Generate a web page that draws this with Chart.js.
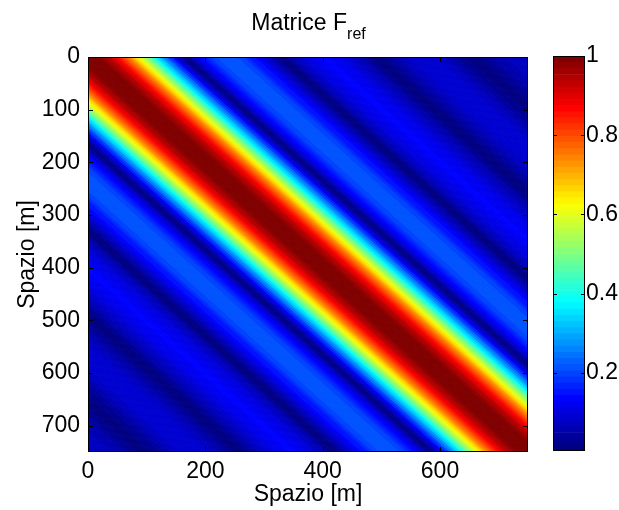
<!DOCTYPE html>
<html><head><meta charset="utf-8">
<script src="https://cdn.jsdelivr.net/npm/chart.js@4.4.0/dist/chart.umd.min.js"></script>
<style>
html,body{margin:0;padding:0;background:#fff;}
#wrap{position:relative;width:619px;height:510px;overflow:hidden;font-family:"Liberation Sans",Arial,sans-serif;}
#main{position:absolute;left:0;top:0;}
#cbar{position:absolute;left:540px;top:0;}
#title{position:absolute;left:0;top:9px;width:617px;text-align:center;font-size:23px;color:#000;white-space:nowrap;}
#title .sub{font-size:16px;position:relative;top:9px;}
</style></head>
<body>
<div id="wrap">
  <canvas id="main" width="619" height="510"></canvas>
  <canvas id="cbar" width="79" height="510"></canvas>
  <div id="title">Matrice F<span class="sub">ref</span></div>
</div>
<script>
// ---- data ----
const X_TICKS = [0, 200, 400, 600];
const Y_TICKS = [0, 100, 200, 300, 400, 500, 600, 700];
const CBAR_TICKS = [0.2, 0.4, 0.6, 0.8, 1];
const SPACE_MAX = 750;            // metres on both axes
const LAG_STEP = 5;               // metres between profile samples
// value of F(i,j) as a function of the distance |i-j| in metres (0, 5, 10, ... 750)
const LAG_PROFILE = [
  1.000, 0.998, 0.994, 0.986, 0.975, 0.962, 0.945, 0.926, 0.904, 0.879,
  0.852, 0.823, 0.792, 0.758, 0.723, 0.686, 0.648, 0.609, 0.569, 0.528,
  0.486, 0.444, 0.402, 0.361, 0.319, 0.278, 0.238, 0.198, 0.160, 0.123,
  0.087, 0.051, 0.019, 0.012, 0.041, 0.068, 0.093, 0.115, 0.136, 0.154,
  0.170, 0.183, 0.195, 0.203, 0.210, 0.215, 0.217, 0.217, 0.215, 0.212,
  0.206, 0.199, 0.191, 0.181, 0.169, 0.157, 0.144, 0.129, 0.114, 0.099,
  0.083, 0.067, 0.051, 0.035, 0.019, 0.003, 0.012, 0.027, 0.041, 0.054,
  0.066, 0.078, 0.088, 0.097, 0.105, 0.112, 0.118, 0.122, 0.126, 0.128,
  0.128, 0.128, 0.126, 0.124, 0.120, 0.115, 0.110, 0.103, 0.096, 0.088,
  0.079, 0.069, 0.060, 0.050, 0.040, 0.029, 0.019, 0.008, 0.003, 0.012,
  0.022, 0.031, 0.040, 0.048, 0.056, 0.063, 0.070, 0.075, 0.080, 0.084,
  0.087, 0.089, 0.091, 0.091, 0.091, 0.090, 0.088, 0.085, 0.082, 0.078,
  0.073, 0.068, 0.062, 0.055, 0.049, 0.041, 0.034, 0.026, 0.019, 0.011,
  0.004, 0.005, 0.012, 0.019, 0.026, 0.033, 0.039, 0.045, 0.050, 0.055,
  0.059, 0.063, 0.066, 0.068, 0.070, 0.071, 0.071, 0.071, 0.070, 0.068,
  0.066
];
const C_MIN = 0.003, C_MAX = 1;   // colour limits of the colour bar

// ---- helpers ----
const FONT = '"Liberation Sans", Arial, sans-serif';
function jetIndex(i){
  const u = i / 63;
  const cl = a => Math.max(0, Math.min(1, a));
  const r = cl(1.5 - Math.abs(4*u - 3)), g = cl(1.5 - Math.abs(4*u - 2)), b = cl(1.5 - Math.abs(4*u - 1));
  return 'rgb(' + Math.round(r*255) + ',' + Math.round(g*255) + ',' + Math.round(b*255) + ')';
}
function jet(v){
  const t = (v - C_MIN) / (C_MAX - C_MIN);
  return jetIndex(Math.min(63, Math.max(0, Math.floor(t * 64))));
}
// a diagonal line j - i = side*lag, evaluated at the along-diagonal position c
function edge(c, lag, side){
  return side > 0 ? {x: c + lag/2, y: c - lag/2} : {x: c - lag/2, y: c + lag/2};
}
const CA = -30, CB = SPACE_MAX + 30, OVER = 1.5;
const datasets = [];
function strip(pts, col){
  return {data: pts, backgroundColor: col, borderColor: 'rgba(0,0,0,0)', borderWidth: 1, pointRadius: 0, fill: 'shape', tension: 0};
}
LAG_PROFILE.forEach((v, k) => {
  const lag = k * LAG_STEP;
  const col = jet(v);
  const b = lag + LAG_STEP/2 + OVER;
  if (k === 0) {
    datasets.push(strip([edge(CA,b,1), edge(CB,b,1), edge(CB,b,-1), edge(CA,b,-1)], col));
  } else {
    const a = lag - LAG_STEP/2;
    [1, -1].forEach(side => {
      datasets.push(strip([edge(CA,a,side), edge(CB,a,side), edge(CB,b,side), edge(CA,b,side)], col));
    });
  }
});

const framePlugin = {
  id: 'frame',
  afterDraw(chart){
    const {ctx, chartArea: a, scales: {x, y}} = chart;
    ctx.save();
    ctx.strokeStyle = '#000'; ctx.lineWidth = 1;
    ctx.strokeRect(a.left + 0.5, a.top + 0.5, a.right - a.left - 1, a.bottom - a.top - 1);
    ctx.beginPath();
    X_TICKS.forEach(v => { const p = Math.round(x.getPixelForValue(v)) + 0.5;
      ctx.moveTo(p, a.bottom); ctx.lineTo(p, a.bottom - 5); ctx.moveTo(p, a.top); ctx.lineTo(p, a.top + 5); });
    Y_TICKS.forEach(v => { const p = Math.round(y.getPixelForValue(v)) + 0.5;
      ctx.moveTo(a.left, p); ctx.lineTo(a.left + 5, p); ctx.moveTo(a.right, p); ctx.lineTo(a.right - 5, p); });
    ctx.stroke();
    ctx.restore();
  }
};

new Chart(document.getElementById('main'), {
  type: 'line',
  data: { datasets },
  options: {
    responsive: false, animation: false, events: [],
    layout: { padding: { left: 0, top: 57, right: 91, bottom: 0 } },
    plugins: { legend: { display: false }, tooltip: { enabled: false }, title: { display: false } },
    scales: {
      x: {
        type: 'linear', min: 0, max: SPACE_MAX, position: 'bottom',
        afterBuildTicks: s => { s.ticks = X_TICKS.map(v => ({value: v})); },
        afterFit: s => { s.height = 58; },
        grid: { display: false, drawTicks: false }, border: { display: false },
        ticks: { color: '#000', font: { size: 23, family: FONT }, padding: 6, maxRotation: 0, autoSkip: false },
        title: { display: true, text: 'Spazio [m]', color: '#000', font: { size: 23, family: FONT }, padding: { top: 0, bottom: 2 } }
      },
      y: {
        type: 'linear', min: 0, max: SPACE_MAX, reverse: true, position: 'left',
        afterBuildTicks: s => { s.ticks = Y_TICKS.map(v => ({value: v})); },
        afterFit: s => { s.width = 88; },
        grid: { display: false, drawTicks: false }, border: { display: false },
        ticks: { color: '#000', font: { size: 23, family: FONT }, padding: 8, autoSkip: false },
        title: { display: true, text: 'Spazio [m]', color: '#000', font: { size: 23, family: FONT }, padding: { top: 14, bottom: 0 } }
      }
    }
  },
  plugins: [framePlugin]
});

// ---- colour bar ----
const cbData = [];
for (let i = 0; i < 64; i++) {
  cbData.push({ data: [[C_MIN + i*(C_MAX-C_MIN)/64, C_MIN + (i+1)*(C_MAX-C_MIN)/64]], backgroundColor: jetIndex(i), borderWidth: 0, barPercentage: 1, categoryPercentage: 1, grouped: false });
}
const cbFrame = {
  id: 'cbframe',
  afterDraw(chart){
    const {ctx, chartArea: a, scales: {y}} = chart;
    ctx.save(); ctx.strokeStyle = '#000'; ctx.lineWidth = 1;
    ctx.strokeRect(a.left + 0.5, a.top + 0.5, a.right - a.left - 1, a.bottom - a.top - 1);
    ctx.beginPath();
    CBAR_TICKS.forEach(v => { const p = Math.round(y.getPixelForValue(v)) + 0.5;
      ctx.moveTo(a.left, p); ctx.lineTo(a.left + 4, p); ctx.moveTo(a.right, p); ctx.lineTo(a.right - 4, p); });
    ctx.stroke(); ctx.restore();
  }
};
new Chart(document.getElementById('cbar'), {
  type: 'bar',
  data: { labels: [''], datasets: cbData },
  options: {
    responsive: false, animation: false, events: [],
    layout: { padding: { left: 13, top: 56, right: 0, bottom: 59 } },
    plugins: { legend: { display: false }, tooltip: { enabled: false } },
    scales: {
      x: { display: false },
      y: {
        position: 'right', min: C_MIN, max: C_MAX,
        afterBuildTicks: s => { s.ticks = CBAR_TICKS.map(v => ({value: v})); },
        afterFit: s => { s.width = 34; },
        grid: { display: false, drawTicks: false }, border: { display: false },
        ticks: { color: '#000', font: { size: 23, family: FONT }, padding: 1, autoSkip: false, callback: v => String(v) }
      }
    }
  },
  plugins: [cbFrame]
});
</script>
</body></html>
